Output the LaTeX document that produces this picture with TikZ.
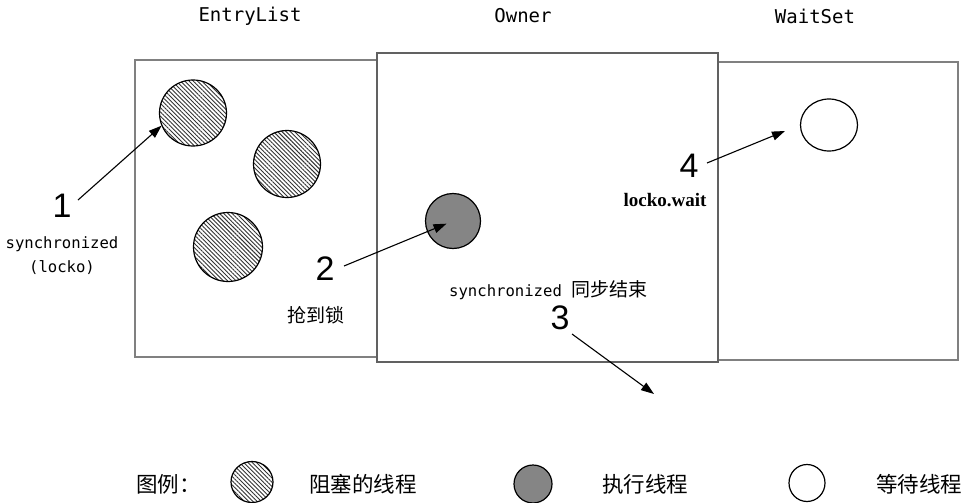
\documentclass[tikz,border=0pt]{standalone}
\usepackage{fontspec}
\setmainfont{Liberation Sans}
\newfontfamily\monof{DejaVu Sans Mono}
\newfontfamily\cjkf{Noto Sans CJK SC}
\newfontfamily\digitf{Liberation Sans}
\newfontfamily\boldserif{Liberation Serif}[BoldFont={Liberation Serif Bold}]
\usetikzlibrary{arrows.meta,patterns.meta,shapes.geometric}
\tikzset{
  box/.style={draw=black!50, line width=1.2pt, fill=white, inner sep=0pt},
  ownerbox/.style={draw=black!62, line width=1.2pt, fill=white, inner sep=0pt},
  thr/.style={ellipse, draw=black, line width=1.2pt, inner sep=0pt},
  blocked/.style={thr, pattern={Lines[angle=-45,distance=3pt,line width=0.9pt]}, pattern color=black!80},
  running/.style={thr, fill=black!48},
  waiting/.style={thr, fill=white},
  title/.style={inner sep=0pt, font=\monof\fontsize{19}{22}\selectfont},
  mono/.style={inner sep=0pt, font=\monof\fontsize{15.6}{18}\selectfont, align=center},
  num/.style={inner sep=0pt, font=\digitf\fontsize{34}{36}\selectfont},
  cjk/.style={inner sep=0pt, font=\cjkf\fontsize{19}{22}\selectfont},
  legend/.style={inner sep=0pt, font=\cjkf\fontsize{21.5}{24}\selectfont},
  arr/.style={line width=1.1pt, -{Triangle[length=13pt,width=9pt]}},
}
\begin{document}
\begin{tikzpicture}[x=1pt,y=-1pt]
\useasboundingbox[fill=white] (0,0) rectangle (972,503);

% boxes
\node[box, minimum width=242pt, minimum height=297pt] (entry) at (256,208.5) {};
\node[box, minimum width=240pt, minimum height=298pt] (waitset) at (838,211) {};
\node[ownerbox, minimum width=341pt, minimum height=309pt] (owner) at (547.5,207.5) {};

% titles
\node[title] (tEntry) at (250,16) {EntryList};
\node[title] (tOwner) at (523,16) {Owner};
\node[title] (tWait) at (815,16) {WaitSet};

% threads
\node[blocked, minimum width=67pt, minimum height=66pt] (c1) at (193,113) {};
\node[blocked, minimum width=67pt, minimum height=67pt] (c2) at (287,164) {};
\node[blocked, minimum width=69pt, minimum height=69pt] (c3) at (228,247) {};
\node[running, minimum width=55pt, minimum height=55pt] (run) at (453,221) {};
\node[waiting, minimum width=57pt, minimum height=52pt] (wt) at (829,125) {};

% labels
\node[num] (n1) at (62,206) {1};
\node[mono] (sync1) at (62,244) {synchronized};
\node[mono] (lock1) at (62,268) {(locko)};
\node[num] (n2) at (325,269) {2};
\node[cjk, anchor=west] (grab) at (287,315) {抢到锁};
\node[inner sep=0pt, anchor=west] (syncend) at (449,290)
  {{\monof\fontsize{15.6}{18}\selectfont synchronized }{\cjkf\fontsize{19}{22}\selectfont 同步结束}};
\node[num] (n3) at (560,318) {3};
\node[num] (n4) at (689,166) {4};
\node[inner sep=0pt, font=\boldserif\bfseries\fontsize{19}{22}\selectfont] (lw) at (665,200) {locko.wait};

% connectors
\coordinate (s1) at (78,200);
\coordinate (s2) at (344,266);
\coordinate (s3) at (572,334);
\coordinate (e3) at (654,394);
\coordinate (s4) at (707,163);
\coordinate (e4) at (785,131);
\draw[arr] (s1) -- (c1.202);
\draw[arr, shorten >=7pt] (s2) -- (run.center);
\draw[arr] (s3) -- (e3);
\draw[arr] (s4) -- (e4);

% legend
\node[legend, anchor=west] (lgTitle) at (136,484) {图例：};
\node[blocked, minimum width=42pt, minimum height=41pt] (lgB) at (252,482) {};
\node[legend, anchor=west] (lgBt) at (309,484) {阻塞的线程};
\node[running, minimum width=38pt, minimum height=38pt] (lgR) at (533,484) {};
\node[legend, anchor=west] (lgRt) at (602,484) {执行线程};
\node[waiting, minimum width=36pt, minimum height=37pt] (lgW) at (807,483) {};
\node[legend, anchor=west] (lgWt) at (876,484) {等待线程};
\end{tikzpicture}
\end{document}
